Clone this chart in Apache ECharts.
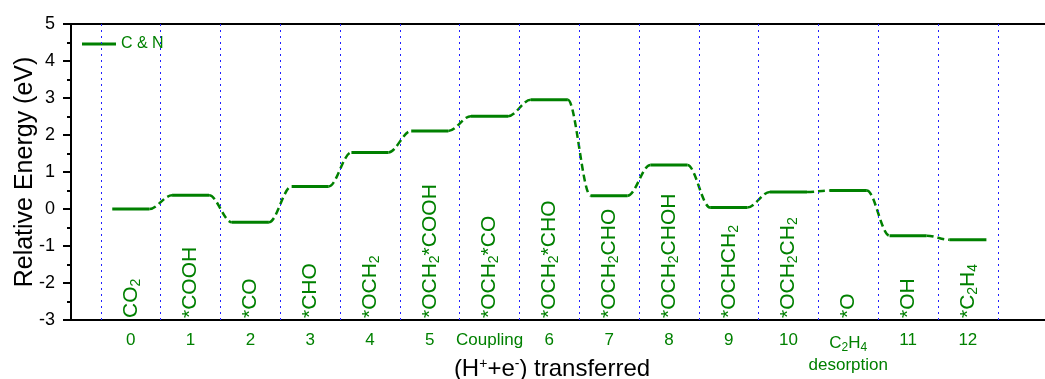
<!DOCTYPE html>
<html>
<head>
<meta charset="utf-8">
<script src="https://cdn.jsdelivr.net/npm/echarts@6/dist/echarts.min.js"></script>
<style>
html,body{margin:0;padding:0;background:#fff;}
#chart{width:1045px;height:379px;}
</style>
</head>
<body>
<div id="chart"></div>
<script>
// ---- data ----
const stepLabels = ['0', '1', '2', '3', '4', '5', 'Coupling', '6', '7', '8', '9', '10', '{a|C}{b|2}{a|H}{b|4}\n{a|desorption}', '11', '12'];
const species = ['CO{s|2}', '*COOH', '*CO', '*CHO', '*OCH{s|2}', '*OCH{s|2}*COOH', '*OCH{s|2}*CO', '*OCH{s|2}*CHO', '*OCH{s|2}CHO', '*OCH{s|2}CHOH', '*OCHCH{s|2}', '*OCH{s|2}CH{s|2}', '*O', '*OH', '*C{s|2}H{s|4}'];
const energies = [0, 0.37, -0.36, 0.61, 1.53, 2.11, 2.51, 2.95, 0.36, 1.19, 0.04, 0.46, 0.50, -0.72, -0.83];
const yTicks = [-3, -2, -1, 0, 1, 2, 3, 4, 5];
const seriesName = 'C & N';

// ---- styles ----
const GREEN = '#008000';
const FONT = '"Liberation Sans", Arial, sans-serif';
const HALF = 0.31;

const boundaries = [];
for (let i = 0; i <= stepLabels.length; i++) boundaries.push({ xAxis: i - 0.5 });

const chart = echarts.init(document.getElementById('chart'));

function renderItem(params, api) {
  const i = api.value(0);
  const e = api.value(1);
  const p1 = api.coord([i - HALF, e]);
  const p2 = api.coord([i + HALF, e]);
  const children = [{
    type: 'line',
    shape: { x1: p1[0], y1: p1[1], x2: p2[0], y2: p2[1] },
    style: { stroke: GREEN, lineWidth: 3 }
  }];
  if (i < energies.length - 1) {
    const q = api.coord([i + 1 - HALF, energies[i + 1]]);
    const dx = q[0] - p2[0];
    children.push({
      type: 'bezierCurve',
      shape: {
        x1: p2[0], y1: p2[1],
        cpx1: p2[0] + dx * 0.35, cpy1: p2[1],
        cpx2: q[0] - dx * 0.35, cpy2: q[1],
        x2: q[0], y2: q[1]
      },
      style: { stroke: GREEN, lineWidth: 2.5, lineDash: [7, 4], fill: null }
    });
  }
  const base = api.coord([i, -3]);
  children.push({
    type: 'text',
    x: base[0],
    y: base[1] - 2,
    rotation: Math.PI / 2,
    style: {
      text: species[i],
      fill: GREEN,
      fontSize: 21,
      fontFamily: FONT,
      align: 'left',
      verticalAlign: 'middle',
      lineHeight: 24,
      rich: {
        s: { fontSize: 14, fill: GREEN, fontFamily: FONT, verticalAlign: 'bottom', lineHeight: 14 }
      }
    }
  });
  return { type: 'group', children: children };
}

const option = {
  animation: false,
  backgroundColor: '#fff',
  grid: { left: 71, top: 24, right: 0, bottom: 59, containLabel: false, outerBoundsMode: 'none' },
  legend: {
    data: [{ name: seriesName, icon: 'rect' }],
    left: 77, top: 31,
    itemWidth: 34, itemHeight: 3,
    textStyle: { color: GREEN, fontSize: 16, fontFamily: FONT }
  },
  xAxis: [{
    type: 'value',
    min: -1, max: 15.29, interval: 1,
    position: 'bottom',
    name: '(H{p|+}+e{p|-}) transferred',
    nameLocation: 'middle',
    nameGap: 37,
    nameMoveOverlap: false,
    nameTextStyle: {
      color: '#000', fontSize: 24, fontFamily: FONT, padding: [0, 12, 0, 0],
      rich: { p: { fontSize: 14, color: '#000', fontFamily: FONT, verticalAlign: 'top', lineHeight: 14 } }
    },
    axisLine: { show: true, onZero: false, lineStyle: { color: '#000', width: 2 } },
    axisTick: { show: false },
    splitLine: { show: false },
    axisLabel: {
      margin: 12,
      color: GREEN, fontSize: 17, fontFamily: FONT,
      showMinLabel: true, showMaxLabel: true,
      formatter: function (v) {
        const k = Math.round(v);
        if (Math.abs(v - k) > 1e-6) return '';
        return k >= 0 && k < stepLabels.length ? stepLabels[k] : '';
      },
      rich: {
        a: { color: GREEN, fontSize: 17, fontFamily: FONT, lineHeight: 22 },
        b: { color: GREEN, fontSize: 12, fontFamily: FONT, verticalAlign: 'bottom', lineHeight: 14 }
      }
    }
  }, {
    type: 'value',
    min: -1, max: 15.29, interval: 1,
    position: 'top',
    axisLine: { show: true, onZero: false, lineStyle: { color: '#000', width: 2 } },
    axisTick: { show: false },
    axisLabel: { show: false },
    splitLine: { show: false }
  }],
  yAxis: {
    type: 'value',
    min: yTicks[0], max: yTicks[yTicks.length - 1], interval: 1,
    name: 'Relative Energy (eV)',
    nameLocation: 'middle',
    nameGap: 33,
    nameMoveOverlap: false,
    nameTextStyle: { color: '#000', fontSize: 25, fontFamily: FONT },
    axisLine: { show: true, onZero: false, lineStyle: { color: '#000', width: 2 } },
    axisTick: { show: true, length: 8, lineStyle: { color: '#000', width: 2 } },
    minorTick: { show: true, splitNumber: 2, length: 4, lineStyle: { color: '#000', width: 2 } },
    splitLine: { show: false },
    axisLabel: { margin: 16, color: '#000', fontSize: 18, fontFamily: FONT }
  },
  series: [{
    name: seriesName,
    type: 'custom',
    xAxisIndex: 0,
    itemStyle: { color: GREEN },
    renderItem: renderItem,
    data: energies.map(function (e, i) { return [i, e]; }),
    clip: false,
    markLine: {
      silent: true,
      symbol: 'none',
      label: { show: false },
      lineStyle: { color: '#2020ff', width: 1, type: [2, 4] },
      data: boundaries
    }
  }]
};
chart.setOption(option);
</script>
</body>
</html>
